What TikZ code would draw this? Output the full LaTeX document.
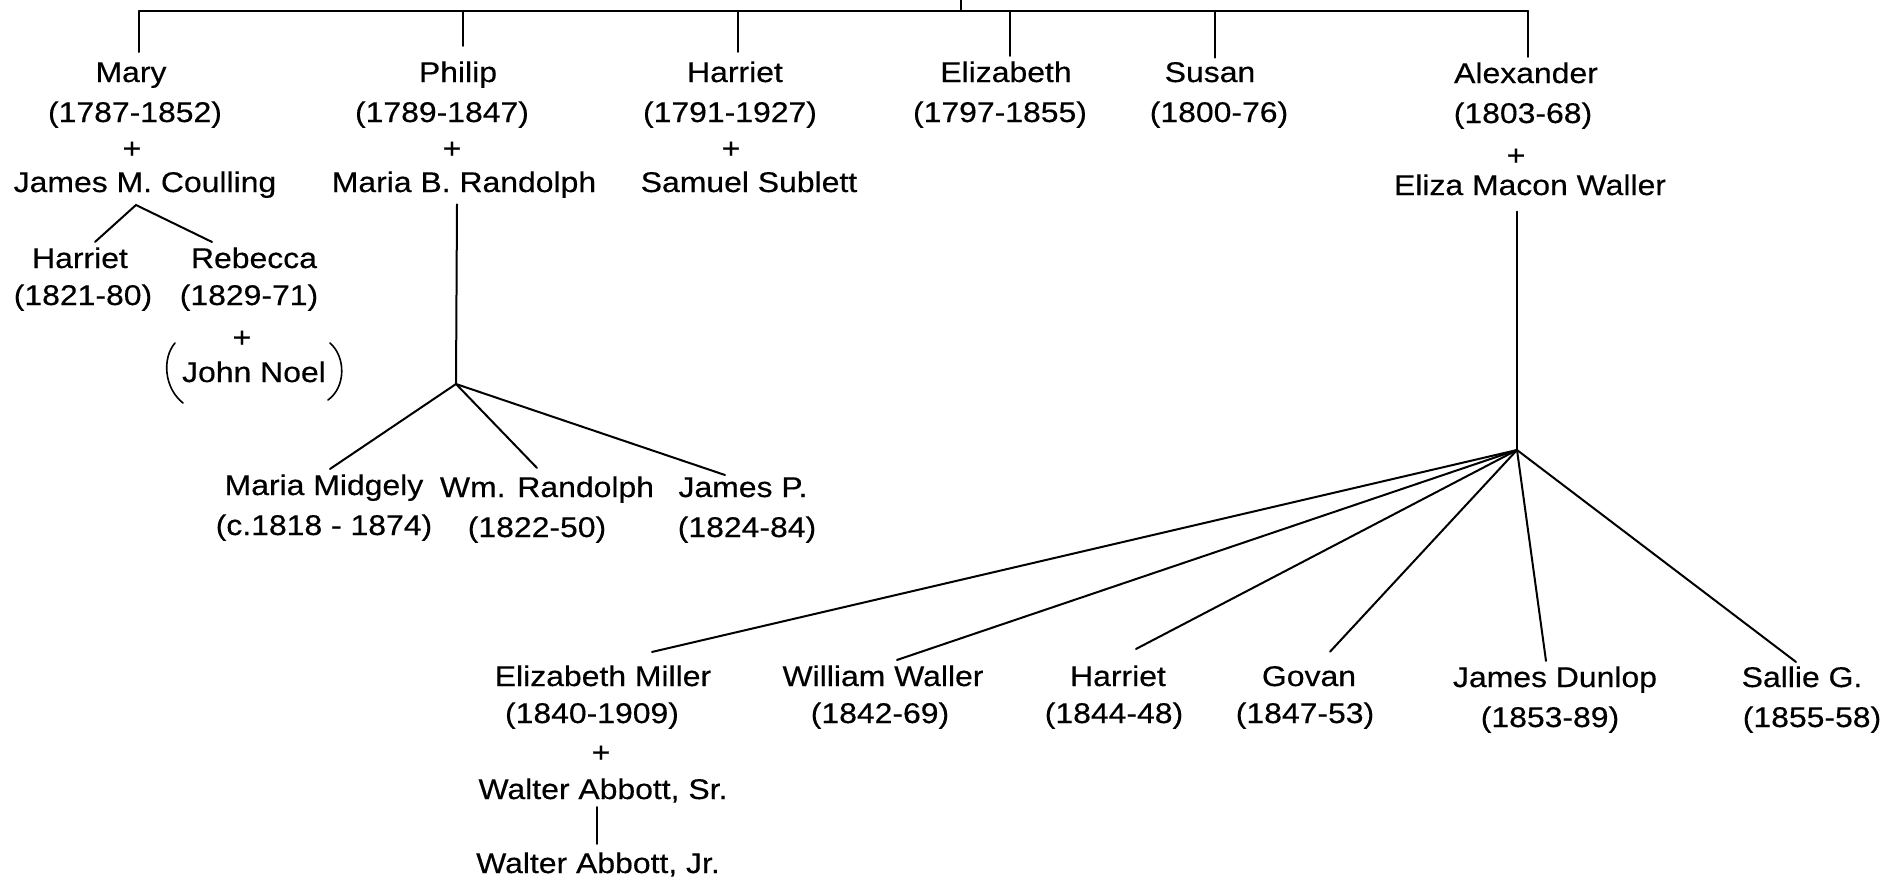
\documentclass[tikz,border=0pt]{standalone}
\usepackage{fontspec}
\setmainfont[FakeStretch=1.12,FakeBold=0.4]{Liberation Sans}
\usetikzlibrary{calc}
\begin{document}
\begin{tikzpicture}[x=0.5pt,y=-0.5pt,
  lbl/.style={inner sep=0pt, anchor=base, font=\fontsize{14.25pt}{17pt}\selectfont},
  link/.style={line width=1pt, line cap=round},
  paren/.style={line width=0.8pt, line cap=round}]
\useasboundingbox (0,0) rectangle (1885,880);

% ---- first generation ----
\node[lbl] (mary)     at (131,82)  {Mary};
\node[lbl] (maryd)    at (135,122) {(1787-1852)};
\node[lbl] (maryp)    at (132,158) {+};
\node[lbl] (marys)    at (145,192) {James M. Coulling};

\node[lbl] (philip)   at (458,82)  {Philip};
\node[lbl] (philipd)  at (442,122) {(1789-1847)};
\node[lbl] (philipp)  at (452,158) {+};
\node[lbl] (philips)  at (464,192) {Maria B. Randolph};

\node[lbl] (harriet)  at (735,82)  {Harriet};
\node[lbl] (harrietd) at (730,122) {(1791-1927)};
\node[lbl] (harrietp) at (731,158) {+};
\node[lbl] (harriets) at (749,192) {Samuel Sublett};

\node[lbl] (eliz)     at (1006,82)  {Elizabeth};
\node[lbl] (elizd)    at (1000,122) {(1797-1855)};

\node[lbl] (susan)    at (1210,82)  {Susan};
\node[lbl] (susand)   at (1219,122) {(1800-76)};

\node[lbl] (alex)     at (1526,83)  {Alexander};
\node[lbl] (alexd)    at (1523,123) {(1803-68)};
\node[lbl] (alexp)    at (1516,165) {+};
\node[lbl] (alexs)    at (1530,195) {Eliza Macon Waller};

% ---- Mary's children ----
\node[lbl] (harr2)    at (80,268)  {Harriet};
\node[lbl] (harr2d)   at (83,305)  {(1821-80)};
\node[lbl] (rebecca)  at (254,268) {Rebecca};
\node[lbl] (rebeccad) at (249,305) {(1829-71)};
\node[lbl] (rebeccap) at (242,347) {+};
\node[lbl] (noel)     at (254,382) {John Noel};

% ---- Philip's children ----
\node[lbl] (mm)   at (324,495) {Maria Midgely};
\node[lbl] (mmd)  at (324,535) {(c.1818 - 1874)};
\node[lbl] (wr)   at (547,497) {Wm. Randolph};
\node[lbl] (wrd)  at (537,537) {(1822-50)};
\node[lbl] (jp)   at (743,497) {James P.};
\node[lbl] (jpd)  at (747,537) {(1824-84)};

% ---- Alexander's children ----
\node[lbl] (em)    at (603,686) {Elizabeth Miller};
\node[lbl] (emd)   at (592,723) {(1840-1909)};
\node[lbl] (emp)   at (601,762) {+};
\node[lbl] (was)   at (603,799) {Walter Abbott, Sr.};
\node[lbl] (waj)   at (598,873) {Walter Abbott, Jr.};
\node[lbl] (ww)    at (883,686) {William Waller};
\node[lbl] (wwd)   at (880,723) {(1842-69)};
\node[lbl] (har3)  at (1118,686) {Harriet};
\node[lbl] (har3d) at (1114,723) {(1844-48)};
\node[lbl] (govan) at (1309,686) {Govan};
\node[lbl] (govand) at (1305,723) {(1847-53)};
\node[lbl] (jd)    at (1555,687) {James Dunlop};
\node[lbl] (jdd)   at (1550,727) {(1853-89)};
\node[lbl] (sg)    at (1802,687) {Sallie G.};
\node[lbl] (sgd)   at (1812,727) {(1855-58)};

% ---- connectors ----
\coordinate (root) at (961,0);
\coordinate (bar)  at (961,11);
\coordinate (barL) at (139,11);
\coordinate (barR) at (1528,11);
\draw[link] (root) -- (bar);
\draw[link] (barL) -- (barR);
\draw[link] (barL) -- ($(mary.north)+(8,-10)$);
\draw[link] ($(philip.north |- bar)+(5,0)$) -- ($(philip.north)+(5,-15)$);
\draw[link] ($(harriet.north |- bar)+(3,0)$) -- ($(harriet.north)+(3,-9)$);
\draw[link] ($(eliz.north |- bar)+(4,0)$) -- ($(eliz.north)+(4,-5)$);
\draw[link] ($(susan.north |- bar)+(5,0)$) -- ($(susan.north)+(5,-4)$);
\draw[link] (barR) -- ($(alex.north)+(2,-5)$);

% Mary's family
\coordinate (j0) at (136,205);
\draw[link] ($(harr2.north)+(15,-5)$) -- (j0) -- ($(rebecca.north)+(-42,-5)$);
\draw[paren] ($(noel.base)+(-79,-39)$) .. controls ($(noel.base)+(-92,-24)$) and ($(noel.base)+(-90,6)$) .. ($(noel.base)+(-71,21)$);
\draw[paren] ($(noel.base)+(76,-39)$) .. controls ($(noel.base)+(92,-25)$) and ($(noel.base)+(92,5)$) .. ($(noel.base)+(74,18)$);

% Philip's family
\coordinate (j1) at (456,384);
\draw[link] ($(philips.south)+(-7,6)$) -- (j1);
\draw[link] (j1) -- ($(mm.north)+(6,-5)$);
\draw[link] (j1) -- ($(wr.north)+(-10,-8)$);
\draw[link] (j1) -- ($(jp.north)+(-18,-2)$);

% Alexander's family
\coordinate (j2) at (1517,450);
\draw[link] ($(alexs.south)+(-13,16)$) -- (j2);
\draw[link] (j2) -- ($(em.north)+(49,-13)$);
\draw[link] (j2) -- ($(ww.north)+(14,-5)$);
\draw[link] (j2) -- ($(har3.north)+(18,-16)$);
\draw[link] (j2) -- ($(govan.north)+(21,-14)$);
\draw[link] (j2) -- ($(jd.north)+(-9,-5)$);
\draw[link] (j2) -- ($(sg.north)+(-6,-4)$);
\draw[link] ($(was.south)+(-6,4)$) -- ($(waj.north)+(-1,-8)$);
\end{tikzpicture}
\end{document}
